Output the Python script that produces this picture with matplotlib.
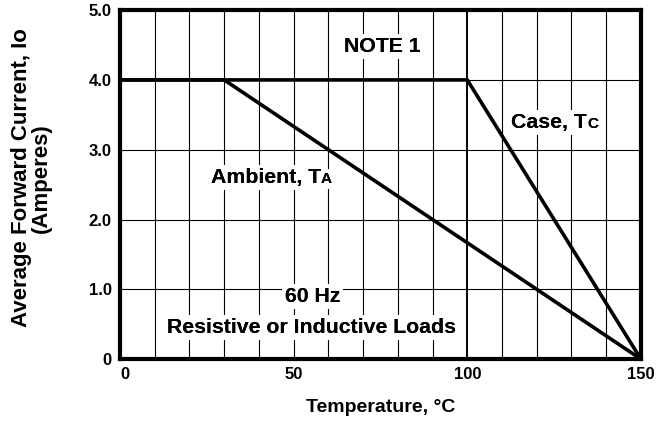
import matplotlib
matplotlib.use("Agg")
import matplotlib.pyplot as plt

# derating curves (temperature in C, current in A)
ambient_t = [0, 30, 150]
ambient_i = [4.0, 4.0, 0.0]
case_t = [0, 100, 150]
case_i = [4.0, 4.0, 0.0]

x_ticks = [0, 50, 100, 150]
x_ticklabels = ["0", "50", "100", "150"]
y_ticks = [0, 1, 2, 3, 4, 5]
y_ticklabels = ["0", "1.0", "2.0", "3.0", "4.0", "5.0"]

plt.rcParams['font.family'] = ['Liberation Sans', 'DejaVu Sans']
plt.rcParams['font.weight'] = 'bold'

fig = plt.figure(figsize=(6.58, 4.21), dpi=100)
ax = fig.add_axes([0.1824, 0.147, 0.7916, 0.829])

# grid lines every 10 C and every 1 A
for t in range(10, 150, 10):
    lw = 1.4 if t == 100 else 0.8
    ax.axvline(t, color='black', lw=lw, zorder=1)
for i in range(1, 5):
    ax.axhline(i, color='black', lw=0.8, zorder=1)

ax.plot(ambient_t, ambient_i, color='black', lw=2.6, solid_capstyle='butt', zorder=3)
ax.plot(case_t, case_i, color='black', lw=2.6, solid_capstyle='butt', zorder=3)

ax.set_xlim(0, 150)
ax.set_ylim(0, 5)
ax.set_xticks(x_ticks)
ax.set_xticklabels(x_ticklabels, fontsize=12, fontweight='bold')
ax.get_xticklabels()[0].set_horizontalalignment('left')
ax.set_yticks(y_ticks)
ax.set_yticklabels(y_ticklabels, fontsize=12, fontweight='bold')
ax.tick_params(length=0, pad=6)
for s in ax.spines.values():
    s.set_linewidth(3)
    s.set_zorder(4)

ax.set_xlabel("Temperature, °C", fontsize=14, fontweight='bold', labelpad=12)
ax.set_ylabel("Average Forward Current, Io\n(Amperes)", fontsize=16,
              fontweight='bold', linespacing=0.95)
ax.yaxis.set_label_coords(-0.130, 0.52)

box = dict(facecolor='white', edgecolor='none', pad=2)


def label(x, y, s, size=15.3, ha='center'):
    # white box under the text breaks the grid, text drawn again on top
    ax.text(x, y, s, fontsize=size, fontweight='bold', ha=ha, va='baseline',
            bbox=box, zorder=5)
    ax.text(x, y, s, fontsize=size, fontweight='bold', ha=ha, va='baseline',
            zorder=6)


label(75.6, 4.40, "NOTE 1")
label(134.5, 3.31, "Case, T", ha='right')
label(134.5, 3.31, "C", size=11, ha='left')
label(57.9, 2.52, "Ambient, T", ha='right')
label(57.9, 2.52, "A", size=11, ha='left')
label(55.4, 0.817, "60 Hz")
label(55.0, 0.372, "Resistive or Inductive Loads")

fig.savefig("out.png", dpi=100)
